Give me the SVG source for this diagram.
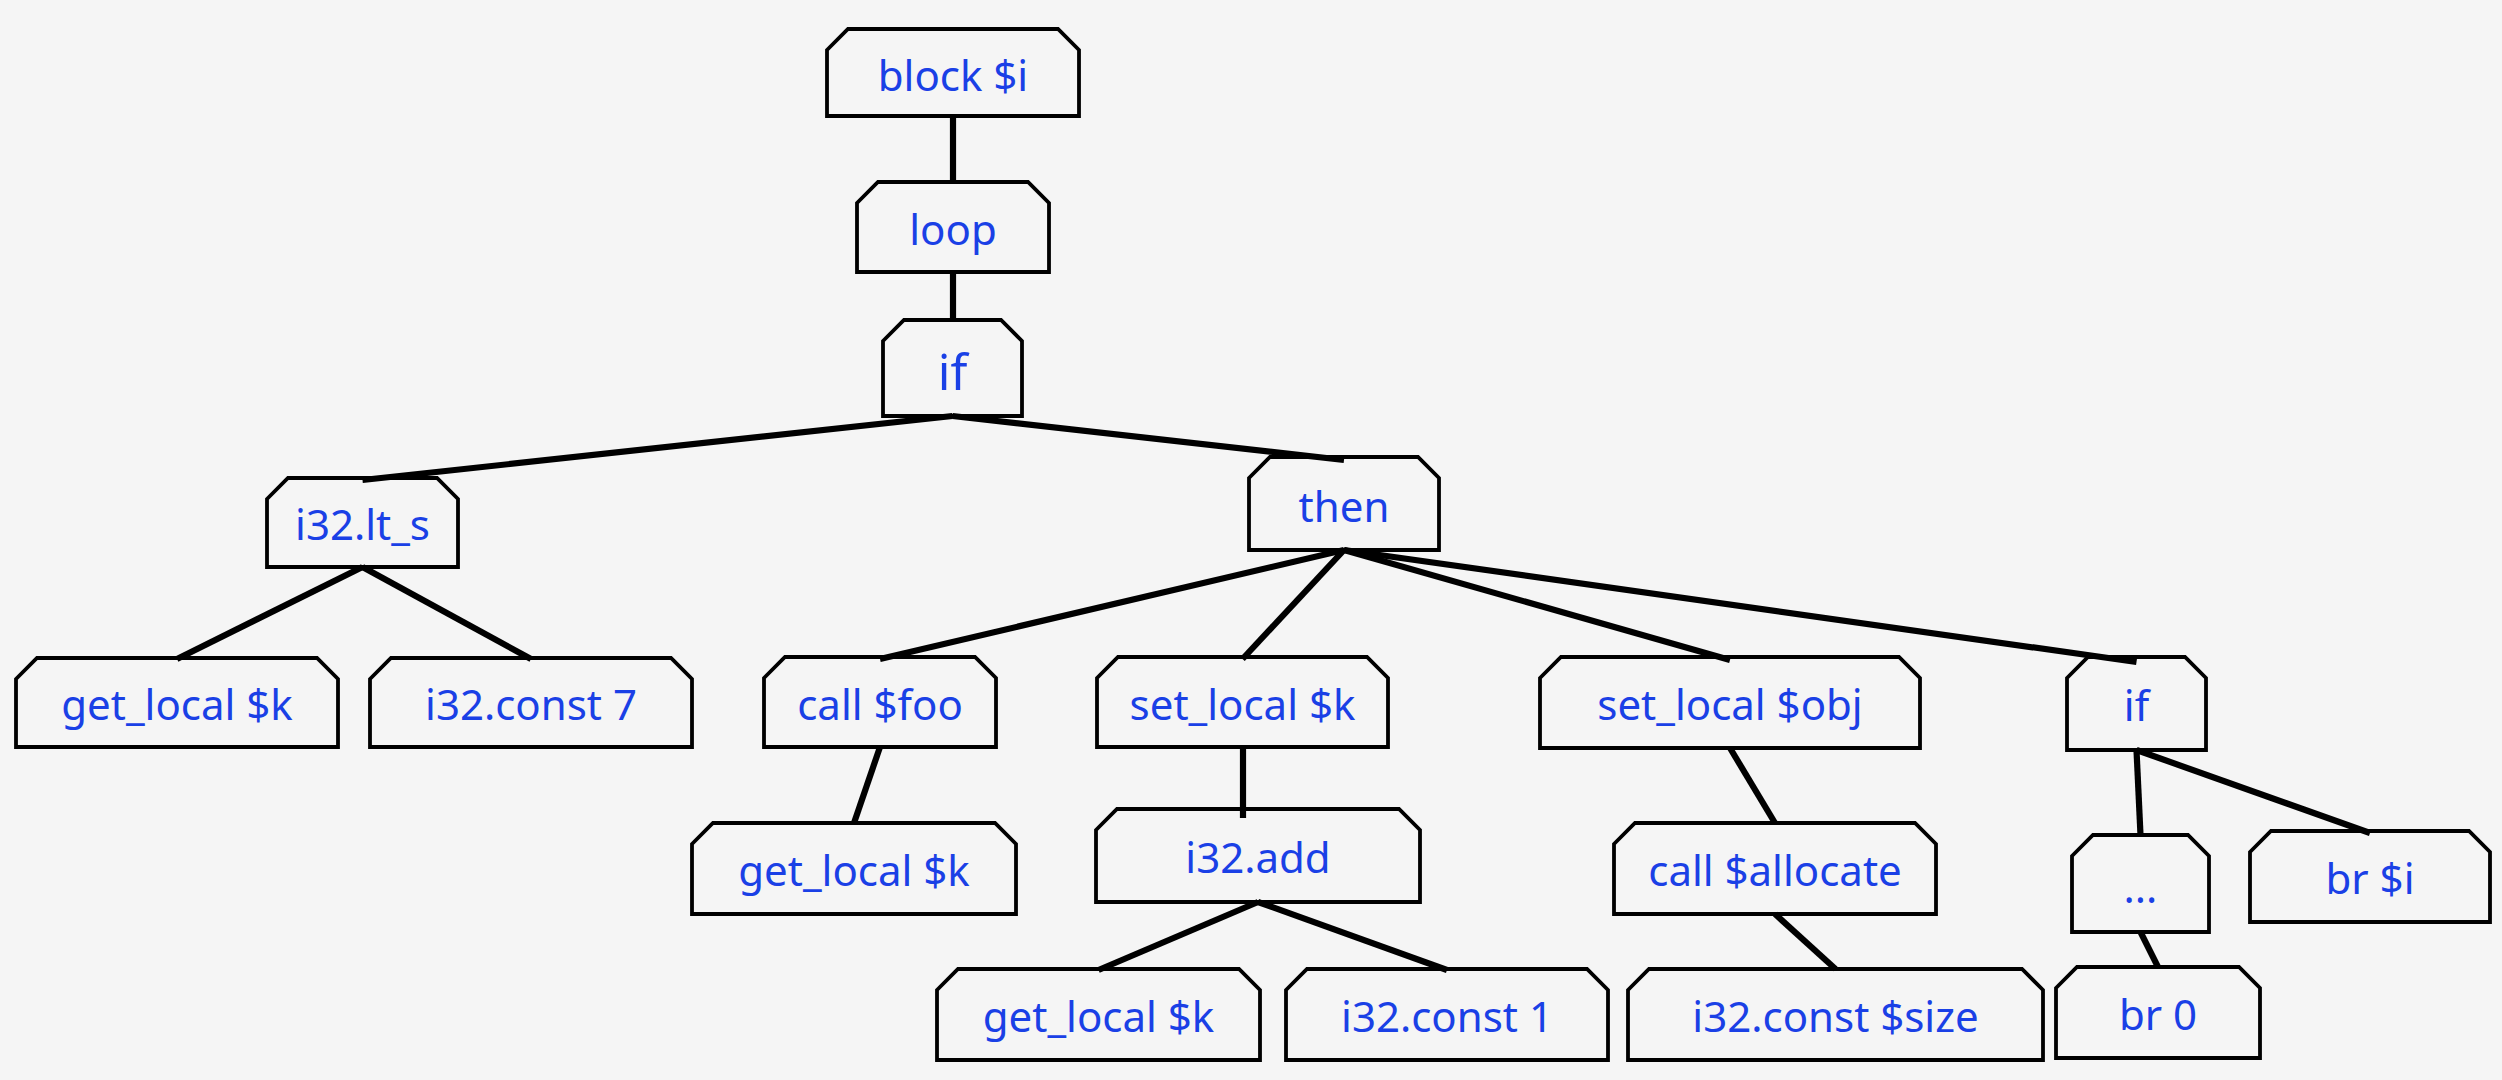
<svg xmlns="http://www.w3.org/2000/svg" width="2502" height="1080" viewBox="0 0 2502 1080">
<style>
.box{fill:#f5f5f5;stroke:#000;stroke-width:3.8;stroke-linejoin:miter}
.lbl{font-family:"Noto Sans","Liberation Sans",sans-serif;font-size:42px;fill:#1a40e6;text-anchor:middle}
.big{font-size:49px}
.edge{stroke:#000;stroke-width:6.2;fill:none;stroke-linecap:butt}
</style>
<rect width="2502" height="1080" fill="#f5f5f5"/>
<g id="nodes">
<g id="n-block"><polygon class="box" points="827,50 848,29 1058,29 1079,50 1079,116 827,116"/><text class="lbl" x="953" y="91">block $i</text></g>
<g id="n-loop"><polygon class="box" points="857,203 878,182 1028,182 1049,203 1049,272 857,272"/><text class="lbl" x="953" y="245">loop</text></g>
<g id="n-if1"><polygon class="box" points="883,341 904,320 1001,320 1022,341 1022,416 883,416"/><text class="lbl big" x="952.5" y="390">if</text></g>
<g id="n-ltS"><polygon class="box" points="267,499 288,478 437,478 458,499 458,567 267,567"/><text class="lbl" x="362.5" y="540">i32.lt_s</text></g>
<g id="n-then"><polygon class="box" points="1249,478 1270,457 1418,457 1439,478 1439,550 1249,550"/><text class="lbl" x="1344" y="522">then</text></g>
<g id="n-get1"><polygon class="box" points="16,679 37,658 317,658 338,679 338,747 16,747"/><text class="lbl" x="177" y="720">get_local $k</text></g>
<g id="n-const7"><polygon class="box" points="370,679 391,658 671,658 692,679 692,747 370,747"/><text class="lbl" x="531" y="720">i32.const 7</text></g>
<g id="n-callfoo"><polygon class="box" points="764,678 785,657 975,657 996,678 996,747 764,747"/><text class="lbl" x="880" y="720">call $foo</text></g>
<g id="n-setk"><polygon class="box" points="1097,678 1118,657 1367,657 1388,678 1388,747 1097,747"/><text class="lbl" x="1242.5" y="720">set_local $k</text></g>
<g id="n-setobj"><polygon class="box" points="1540,678 1561,657 1899,657 1920,678 1920,748 1540,748"/><text class="lbl" x="1730" y="720">set_local $obj</text></g>
<g id="n-if2"><polygon class="box" points="2067,678 2088,657 2185,657 2206,678 2206,750 2067,750"/><text class="lbl" x="2136.5" y="721">if</text></g>
<g id="n-get2"><polygon class="box" points="692,844 713,823 995,823 1016,844 1016,914 692,914"/><text class="lbl" x="854" y="886">get_local $k</text></g>
<g id="n-add"><polygon class="box" points="1096,830 1117,809 1399,809 1420,830 1420,902 1096,902"/><text class="lbl" x="1258" y="873">i32.add</text></g>
<g id="n-alloc"><polygon class="box" points="1614,844 1635,823 1915,823 1936,844 1936,914 1614,914"/><text class="lbl" x="1775" y="886">call $allocate</text></g>
<g id="n-dots"><polygon class="box" points="2072,856 2093,835 2188,835 2209,856 2209,932 2072,932"/><text class="lbl" x="2140.5" y="903">...</text></g>
<g id="n-bri"><polygon class="box" points="2250,852 2271,831 2469,831 2490,852 2490,922 2250,922"/><text class="lbl" x="2370" y="894">br $i</text></g>
<g id="n-get3"><polygon class="box" points="937,990 958,969 1239,969 1260,990 1260,1060 937,1060"/><text class="lbl" x="1098.5" y="1032">get_local $k</text></g>
<g id="n-const1"><polygon class="box" points="1286,990 1307,969 1587,969 1608,990 1608,1060 1286,1060"/><text class="lbl" x="1447" y="1032">i32.const 1</text></g>
<g id="n-size"><polygon class="box" points="1628,990 1649,969 2022,969 2043,990 2043,1060 1628,1060"/><text class="lbl" x="1835.5" y="1032">i32.const $size</text></g>
<g id="n-br0"><polygon class="box" points="2056,988 2077,967 2239,967 2260,988 2260,1058 2056,1058"/><text class="lbl" x="2158" y="1030">br 0</text></g>
</g>
<g id="connectors" class="edge">
<line x1="953" y1="116" x2="953" y2="182"/>
<line x1="953" y1="272" x2="953" y2="320"/>
<line x1="952.5" y1="416" x2="362.5" y2="480"/>
<line x1="952.5" y1="416" x2="1344" y2="460"/>
<line x1="362.5" y1="567" x2="177" y2="659"/>
<line x1="362.5" y1="567" x2="531" y2="659"/>
<line x1="1344" y1="550" x2="880" y2="659"/>
<line x1="1344" y1="550" x2="1242.5" y2="659"/>
<line x1="1344" y1="550" x2="1730" y2="660"/>
<line x1="1344" y1="550" x2="2136.5" y2="662"/>
<line x1="880" y1="747" x2="854" y2="823"/>
<line x1="1243" y1="747" x2="1243" y2="818"/>
<line x1="1730" y1="748" x2="1775" y2="823"/>
<line x1="1775" y1="914" x2="1835.5" y2="969"/>
<line x1="1258" y1="902" x2="1098.5" y2="970"/>
<line x1="1258" y1="902" x2="1447" y2="970"/>
<line x1="2136.5" y1="750" x2="2140.5" y2="835"/>
<line x1="2136.5" y1="750" x2="2370" y2="833"/>
<line x1="2140.5" y1="932" x2="2158" y2="967"/>
</g>
</svg>
